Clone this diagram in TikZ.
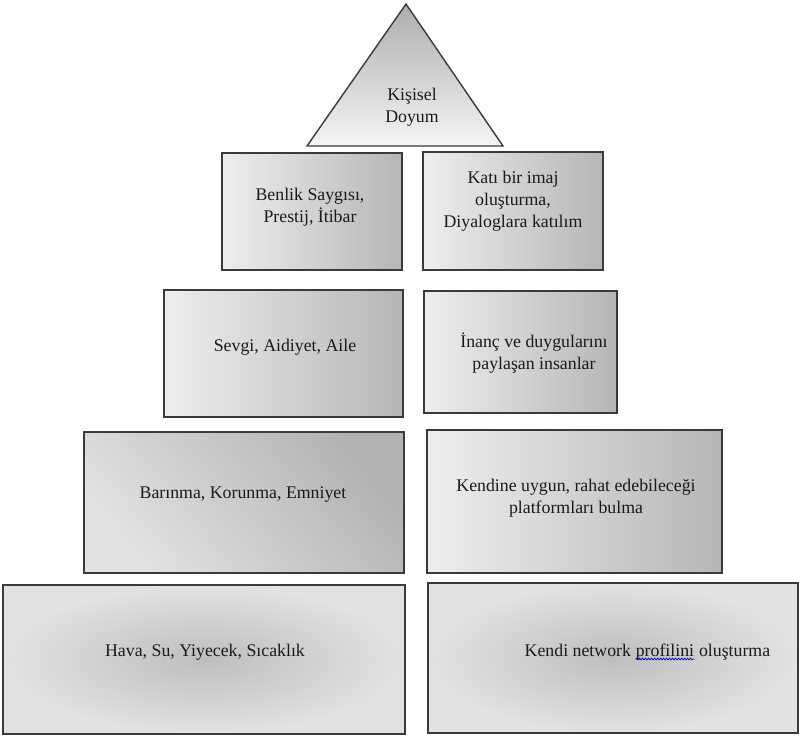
\documentclass[tikz,border=0pt]{standalone}
\usepackage{fontspec}
\setmainfont{Liberation Serif}
\usetikzlibrary{decorations.pathmorphing}
\definecolor{edge}{HTML}{3A3A3A}
\definecolor{ink}{HTML}{1A1A1A}
\definecolor{lite}{HTML}{EEEEEE}
\definecolor{dark}{HTML}{B6B6B6}
\definecolor{mid}{HTML}{BEBEBE}
\definecolor{rim}{HTML}{E2E2E2}
\tikzset{
  box/.style={draw=edge, line width=1.8pt, rectangle, inner sep=0pt},
  hbox/.style={box, left color=lite, right color=dark},
  rbox/.style={box, shading=radial, inner color=mid, outer color=rim},
  txt/.style={text=ink, align=center, inner sep=0pt,
    font=\fontsize{17.8}{22}\selectfont},
}
\begin{document}
\begin{tikzpicture}[x=1pt, y=-1pt]
\useasboundingbox (0,0) rectangle (799,736);

% apex of the pyramid
\shadedraw[draw=edge, line width=1.4pt, line join=miter,
  top color=dark!95!black, bottom color=lite!60!white]
  (307,146) -- (406,4) -- (503,146) -- cycle;
\node[txt] (t0) at (412,107) {Kişisel\\Doyum};

% second tier
\node[hbox, minimum width=180pt, minimum height=117pt] (b1l) at (312,211.5) {};
\node[hbox, minimum width=180pt, minimum height=118pt] (b1r) at (513,211) {};
\node[txt] (t1l) at (310,207) {Benlik Saygısı,\\Prestij, İtibar};
\node[txt] (t1r) at (513,201) {Katı bir imaj\\oluşturma,\\Diyaloglara katılım};

% third tier
\node[hbox, minimum width=239pt, minimum height=127pt] (b2l) at (283.5,353.5) {};
\node[hbox, minimum width=193pt, minimum height=122pt] (b2r) at (520.5,352) {};
\node[txt] (t2l) at (285,347) {Sevgi, Aidiyet, Aile};
\node[txt] (t2r) at (534,353) {İnanç ve duygularını\\paylaşan insanlar};

% fourth tier
\node[box, minimum width=320pt, minimum height=141pt,
  top color=dark!98!black, bottom color=lite!95!black, shading angle=-50] (b3l) at (244,502.5) {};
\node[hbox, minimum width=295pt, minimum height=143pt] (b3r) at (574.5,501.5) {};
\node[txt] (t3l) at (243,495) {Barınma, Korunma, Emniyet};
\node[txt] (t3r) at (576,498) {Kendine uygun, rahat edebileceği\\platformları bulma};

% base tier
\node[rbox, minimum width=402pt, minimum height=149pt] (b4l) at (204,659.5) {};
\node[rbox, minimum width=370pt, minimum height=150pt] (b4r) at (613,658) {};
\node[txt] (t4l) at (205,652) {Hava, Su, Yiyecek, Sıcaklık};
\node[txt, anchor=base] (k2) at (665,656) {profilini};
\node[txt, anchor=base east] (k1) at ([xshift=-4.45pt]k2.base west) {Kendi network};
\node[txt, anchor=base west] (k3) at ([xshift=4.45pt]k2.base east) {oluşturma};
\draw[blue!75!black, line width=0.7pt, decorate,
  decoration={snake, amplitude=0.9pt, segment length=3pt}]
  ([yshift=-3pt]k2.base west) -- ([yshift=-3pt]k2.base east);
\end{tikzpicture}
\end{document}
